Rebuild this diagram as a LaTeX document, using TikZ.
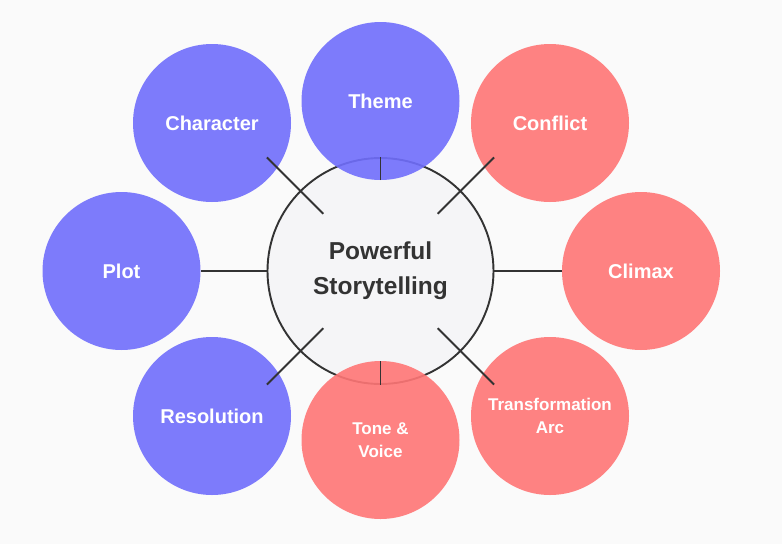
\documentclass[tikz,border=0pt]{standalone}
\usepackage{fontspec}
\setmainfont{Liberation Sans}
\usetikzlibrary{calc}
\definecolor{bgcol}{RGB}{250,250,250}
\definecolor{hubfill}{RGB}{245,245,247}
\definecolor{linecol}{RGB}{51,51,51}
\definecolor{petalblue}{RGB}{112,110,252}
\definecolor{petalred}{RGB}{255,118,118}

\begin{document}
\begin{tikzpicture}[
    x=1pt, y=-1pt,
    hub/.style={
      circle, draw=linecol, line width=1.9pt, fill=hubfill, minimum size=226pt,
      inner sep=0pt, align=center, text=linecol,
      font=\fontsize{24.5}{35}\selectfont\bfseries
    },
    pet/.style={
      circle, minimum size=158pt, inner sep=0pt, align=center, text=white,
      fill opacity=0.9, text opacity=1,
      font=\fontsize{20}{24}\selectfont\bfseries
    },
    bpet/.style={pet, fill=petalblue},
    rpet/.style={pet, fill=petalred},
    two/.style={font=\fontsize{17}{23}\selectfont\bfseries},
    lnk/.style={draw=linecol, line width=1.9pt}
  ]
    % --- background ---
    \fill[bgcol] (0,0) rectangle (782,544);
    \useasboundingbox (0,0) rectangle (782,544);

    % --- hub ---
    \node[hub] (hub) at (380.5, 271) {Powerful\\Storytelling};

    % --- petals ---
    \node[bpet] (theme) at (380.5, 101) {Theme};
    \node[bpet] (chr)   at (212, 123)   {Character};
    \node[rpet] (cfl)   at (550, 123)   {Conflict};
    \node[bpet] (plot)  at (121.5, 271) {Plot};
    \node[rpet] (clx)   at (641, 271)   {Climax};
    \node[bpet] (res)   at (212, 416)   {Resolution};
    \node[rpet, two] (tone) at (380.5, 440) {Tone \&\\Voice};
    \node[rpet, two] (arc)  at (550, 416)   {Transformation\\Arc};

    % --- links ---
    \draw[lnk] (hub.north) -- (theme.south);
    \draw[lnk] (hub.south) -- (tone.north);
    \draw[lnk] (hub.west)  -- (plot.east);
    \draw[lnk] (hub.east)  -- (clx.west);
    \draw[lnk] ($(hub.center)!0.71!(hub.135)$) -- ($(hub.center)!1.41!(hub.135)$);
    \draw[lnk] ($(hub.center)!0.71!(hub.45)$)  -- ($(hub.center)!1.41!(hub.45)$);
    \draw[lnk] ($(hub.center)!0.71!(hub.225)$) -- ($(hub.center)!1.41!(hub.225)$);
    \draw[lnk] ($(hub.center)!0.71!(hub.315)$) -- ($(hub.center)!1.41!(hub.315)$);
  \end{tikzpicture}
\end{document}
